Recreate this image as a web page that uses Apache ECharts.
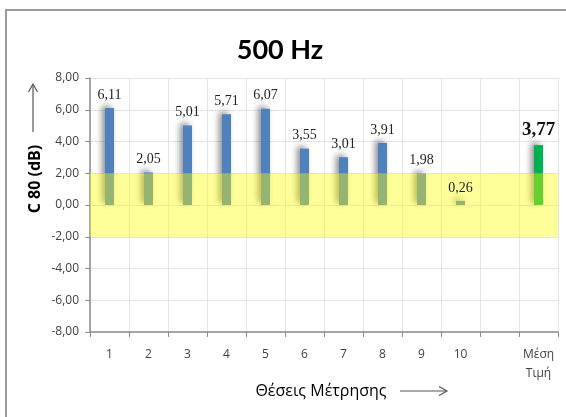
<!DOCTYPE html>
<html>
<head>
<meta charset="utf-8">
<script src="https://cdn.jsdelivr.net/npm/echarts@6/dist/echarts.min.js"></script>
<style>
  html, body { margin: 0; padding: 0; background: #fff; }
  #chart { width: 566px; height: 417px; }
</style>
</head>
<body>
<div id="chart"></div>
<script>
// Measurement positions and the mean value (C80 at 500 Hz, in dB)
const categories = ['1', '2', '3', '4', '5', '6', '7', '8', '9', '10', '', 'Μέση\nΤιμή'];
const positionValues = [6.11, 2.05, 5.01, 5.71, 6.07, 3.55, 3.01, 3.91, 1.98, 0.26];
const meanValue = 3.77;
const yTicks = { min: -8, max: 8, step: 2 };
const band = [-2, 2];

const fmt = v => v.toFixed(2).replace('.', ',');

// bar items: ten positions, an empty slot, then the mean
function buildBars(meanStyle) {
  const items = positionValues.map(v => ({ value: v }));
  items.push({ value: null });
  items.push(Object.assign({ value: meanValue }, meanStyle));
  return items;
}

const chart = echarts.init(document.getElementById('chart'), null, { renderer: 'canvas' });

chart.setOption({
  animation: false,
  backgroundColor: '#fff',
  title: {
    text: '500 Hz',
    left: 275, top: 32,
    textAlign: 'center',
    textStyle: { fontFamily: 'Lato', fontSize: 27, fontWeight: 'bold', color: '#000' }
  },
  grid: { left: 90, right: 8, top: 78, bottom: 85, containLabel: false },
  xAxis: [
    {
      type: 'category',
      data: categories,
      position: 'bottom',
      axisLine: { show: false },
      axisTick: { show: false },
      axisLabel: {
        interval: 0, margin: 13,
        fontFamily: 'Open Sans', fontSize: 12, color: '#404040', lineHeight: 19
      },
      splitLine: { show: true, interval: 0, lineStyle: { color: '#e4e4e4', width: 1 } }
    },
    {
      type: 'category',
      data: categories,
      position: 'bottom',
      axisLine: { show: true, onZero: true, lineStyle: { color: '#8c8c8c', width: 1.5 } },
      axisTick: { show: true, interval: 0, length: 5, lineStyle: { color: '#8c8c8c' } },
      axisLabel: { show: false },
      splitLine: { show: false }
    }
  ],
  yAxis: {
    type: 'value',
    min: yTicks.min, max: yTicks.max, interval: yTicks.step,
    axisLine: { show: true, lineStyle: { color: '#8c8c8c', width: 1.5 } },
    axisTick: { show: true, length: 5, lineStyle: { color: '#8c8c8c' } },
    axisLabel: {
      formatter: fmt, margin: 11,
      fontFamily: 'Open Sans', fontSize: 12, color: '#404040'
    },
    splitLine: { show: true, lineStyle: { color: '#e4e4e4', width: 1 } }
  },
  series: [
    {
      type: 'bar',
      xAxisIndex: 0,
      data: buildBars({ itemStyle: { color: '#00b050' } }),
      barWidth: 9,
      barGap: '-100%',
      z: 2,
      itemStyle: {
        color: '#4f81bd',
        shadowColor: 'rgba(0,0,0,0.45)',
        shadowBlur: 6,
        shadowOffsetX: -3,
        shadowOffsetY: -2
      }
    },
    {
      // translucent acceptance band, spanning the plot width, drawn over the bars
      type: 'custom',
      xAxisIndex: 0,
      z: 10,
      silent: true,
      data: [[0, band[0], band[1]]],
      encode: { x: 0, y: [1, 2] },
      renderItem: (params, api) => {
        const lo = api.coord([0, api.value(1)])[1];
        const hi = api.coord([0, api.value(2)])[1];
        const cs = params.coordSys;
        return {
          type: 'rect',
          shape: { x: cs.x, y: hi, width: cs.width, height: lo - hi },
          style: { fill: 'rgba(255,255,0,0.4)' }
        };
      }
    },
    {
      // value labels, kept above the band
      type: 'bar',
      xAxisIndex: 0,
      data: buildBars({ label: { fontSize: 19, fontWeight: 'bold', color: '#111' } }),
      barWidth: 9,
      barGap: '-100%',
      z: 20,
      silent: true,
      itemStyle: { color: 'rgba(0,0,0,0)' },
      label: {
        show: true,
        position: 'top',
        distance: 6,
        formatter: p => fmt(p.value),
        fontFamily: 'Liberation Serif',
        fontSize: 14,
        color: '#222'
      }
    }
  ],
  graphic: [
    {
      type: 'rect',
      shape: { x: 6, y: 10, width: 600, height: 450 },
      style: { fill: 'none', stroke: '#9a9a9a', lineWidth: 2 },
      silent: true
    },
    {
      type: 'text',
      x: 35, y: 179,
      rotation: Math.PI / 2,
      style: {
        text: 'C 80 (dB)',
        font: 'bold 16px "Open Sans"',
        fill: '#000',
        align: 'center',
        verticalAlign: 'middle'
      }
    },
    {
      type: 'polyline',
      shape: { points: [[33, 132], [33, 85]] },
      style: { stroke: '#555', lineWidth: 1.2, fill: 'none' }
    },
    {
      type: 'polyline',
      shape: { points: [[28.5, 92], [33, 84], [37.5, 92]] },
      style: { stroke: '#555', lineWidth: 1.2, fill: 'none' }
    },
    {
      type: 'text',
      x: 321, y: 391,
      style: {
        text: 'Θέσεις Μέτρησης',
        font: '16px "Open Sans"',
        fill: '#000',
        align: 'center',
        verticalAlign: 'middle'
      }
    },
    {
      type: 'polyline',
      shape: { points: [[400, 391], [446, 391]] },
      style: { stroke: '#555', lineWidth: 1.2, fill: 'none' }
    },
    {
      type: 'polyline',
      shape: { points: [[439, 386.5], [447, 391], [439, 395.5]] },
      style: { stroke: '#555', lineWidth: 1.2, fill: 'none' }
    }
  ]
});
</script>
</body>
</html>
